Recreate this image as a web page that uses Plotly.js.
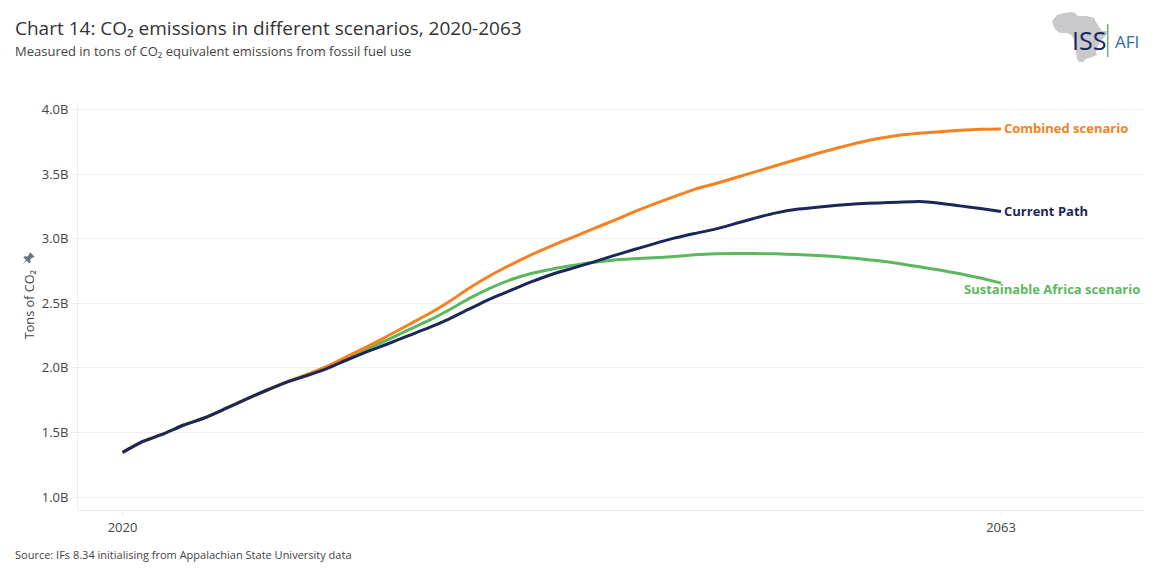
<!DOCTYPE html>
<html>
<head>
<meta charset="utf-8">
<script src="https://cdn.plot.ly/plotly-3.0.1.min.js"></script>
<style>html,body{margin:0;padding:0;background:#fff;overflow:hidden}#chart{width:1155px;height:584px}</style>
</head>
<body>
<div id="chart"></div>
<script>
const years = [];
for (let y = 2020; y <= 2063; y++) years.push(y);

const currentPath = [1.346,1.431,1.489,1.558,1.612,1.682,1.754,1.823,1.888,1.939,1.994,2.063,2.127,2.187,2.250,2.311,2.380,2.458,2.535,2.600,2.665,2.723,2.770,2.817,2.867,2.914,2.960,3.004,3.040,3.074,3.117,3.161,3.200,3.228,3.244,3.259,3.270,3.277,3.283,3.288,3.275,3.254,3.233,3.210];
const combined = [1.346,1.431,1.489,1.558,1.612,1.682,1.754,1.823,1.889,1.947,2.011,2.089,2.166,2.249,2.334,2.419,2.514,2.620,2.715,2.798,2.875,2.945,3.009,3.074,3.138,3.205,3.267,3.326,3.382,3.425,3.472,3.519,3.566,3.613,3.659,3.702,3.742,3.776,3.801,3.816,3.828,3.839,3.847,3.849];
const sustainable = [1.346,1.431,1.489,1.558,1.612,1.682,1.754,1.823,1.888,1.943,2.005,2.079,2.148,2.218,2.295,2.367,2.450,2.540,2.618,2.682,2.730,2.764,2.792,2.816,2.834,2.844,2.852,2.862,2.875,2.883,2.885,2.885,2.883,2.877,2.870,2.860,2.846,2.829,2.808,2.782,2.757,2.728,2.695,2.656];

const yTicks = [1.0,1.5,2.0,2.5,3.0,3.5,4.0];
const yTickLabels = ["1.0B","1.5B","2.0B","2.5B","3.0B","3.5B","4.0B"];
const xTicks = [2020,2063];

const ORANGE = "#f7811e", NAVY = "#1a2859", GREEN = "#5cb85f";
const FONT = "'Open Sans', sans-serif";

const africa = "data:image/svg+xml;utf8," + encodeURIComponent(
  '<svg xmlns="http://www.w3.org/2000/svg" viewBox="0 0 60 52"><path fill="#c9c9cb" d="M0 9 L5 3 L12 1 L20 0 L23 1 L26 4 L34 4 L39 5 L42 6 L44 10 L47 15 L50 19 L55 19 L56 18 L55 22 L50 28 L46 34 L44 40 L45 43 L40 45 L34 47 L31 50 L27 50 L25 47 L24 40 L23 33 L22 27 L19 23 L15 21 L8 21 L3 17 L1 13 Z"/></svg>');
const pin = "data:image/svg+xml;utf8," + encodeURIComponent(
  '<svg xmlns="http://www.w3.org/2000/svg" viewBox="0 0 16 16"><path fill="#6b7280" d="M10 0.5 L15.5 6 L13.8 7.2 L12.6 7 L10.2 9.6 L10.6 13 L9 14.4 L6 11 L0.5 15.5 L5 10 L1.6 7 L3 5.4 L6.4 5.8 L9 3.4 L8.8 2.2 Z"/></svg>');

const line = (name, ys, color) => ({
  x: years, y: ys, name, type: "scatter", mode: "lines",
  line: {color, width: 3, shape: "spline", smoothing: 0.5},
  hoverinfo: "x+y+name"
});
const data = [
  line("Sustainable Africa scenario", sustainable, GREEN),
  line("Combined scenario", combined, ORANGE),
  line("Current Path", currentPath, NAVY)
];

const label = (text, yv, color, xshift, yshift, anchor) => ({
  x: 2063, y: yv, xref: "x", yref: "y", text: "<b>" + text + "</b>", showarrow: false,
  xanchor: anchor, yanchor: "middle", xshift, yshift,
  font: {family: FONT, size: 13, color}
});
const note = (text, x, y, size, color) => ({
  x, y, xref: "paper", yref: "paper", text, showarrow: false,
  xanchor: "left", yanchor: "middle", align: "left",
  font: {family: FONT, size, color}
});
// pixel → paper helpers for page furniture (not data)
const W = 1155, H = 584, L = 78, R = 11, T = 102, B = 73.5;
const px = v => (v - L) / (W - L - R);
const py = v => 1 - (v - T) / (H - T - B);

const layout = {
  width: W, height: H,
  margin: {l: L, r: R, t: T, b: B, pad: 0},
  paper_bgcolor: "#fff", plot_bgcolor: "#fff",
  showlegend: false,
  font: {family: FONT, color: "#444", size: 12},
  xaxis: {
    range: [2017.82, 2070], tickmode: "array", tickvals: xTicks, ticktext: xTicks.map(String),
    showgrid: false, zeroline: false, showline: true, linecolor: "#eeeeee", linewidth: 1,
    ticks: "outside", ticklen: 5, tickcolor: "#eeeeee", tickwidth: 1,
    tickfont: {family: FONT, size: 13, color: "#444"}
  },
  yaxis: {
    range: [0.9, 4.058], tickmode: "array", tickvals: yTicks, ticktext: yTickLabels,
    showgrid: true, gridcolor: "#f0f0f0", gridwidth: 1, zeroline: false,
    showline: true, linecolor: "#eeeeee", linewidth: 1,
    ticks: "outside", ticklen: 6, tickcolor: "#eeeeee", tickwidth: 1,
    tickfont: {family: FONT, size: 13, color: "#444"}
  },
  annotations: [
    label("Combined scenario", 3.849, ORANGE, 1, 1, "left"),
    label("Current Path", 3.210, NAVY, 1, 1, "left"),
    label("Sustainable Africa scenario", 2.656, GREEN, 141, -6, "right"),
    note("Chart 14: CO₂ emissions in different scenarios, 2020-2063", px(13), py(28), 19, "#333"),
    note("Measured in tons of CO₂ equivalent emissions from fossil fuel use", px(13), py(51), 13, "#444"),
    note("Source: IFs 8.34 initialising from Appalachian State University data", px(13), py(555.5), 11, "#444"),
    {x: px(29), y: py(305.5), xref: "paper", yref: "paper", text: "Tons of CO₂", textangle: -90, showarrow: false,
     xanchor: "center", yanchor: "middle", font: {family: FONT, size: 12.7, color: "#444"}},
    {x: px(1070), y: py(40), xref: "paper", yref: "paper", text: "ISS", showarrow: false, xanchor: "left", yanchor: "middle",
     font: {family: "'Liberation Sans Narrow', 'Open Sans', sans-serif", size: 25, color: NAVY}},
    note("AFI", px(1113), py(41), 17, "#2b6cb0")
  ],
  shapes: [
    {type: "line", xref: "paper", yref: "paper", x0: px(1107.7), x1: px(1107.7), y0: py(24), y1: py(57),
     line: {color: "#6fae6f", width: 1.5}}
  ],
  images: [
    {source: africa, xref: "paper", yref: "paper", x: px(1052), y: py(12), sizex: 60/(W-L-R), sizey: 52/(H-T-B),
     xanchor: "left", yanchor: "top", sizing: "stretch", layer: "below"},
    {source: pin, xref: "paper", yref: "paper", x: px(22), y: py(252), sizex: 13/(W-L-R), sizey: 13/(H-T-B),
     xanchor: "left", yanchor: "top", sizing: "stretch", layer: "above"}
  ]
};
Plotly.newPlot("chart", data, layout, {displayModeBar: false, responsive: false});
</script>
</body>
</html>
